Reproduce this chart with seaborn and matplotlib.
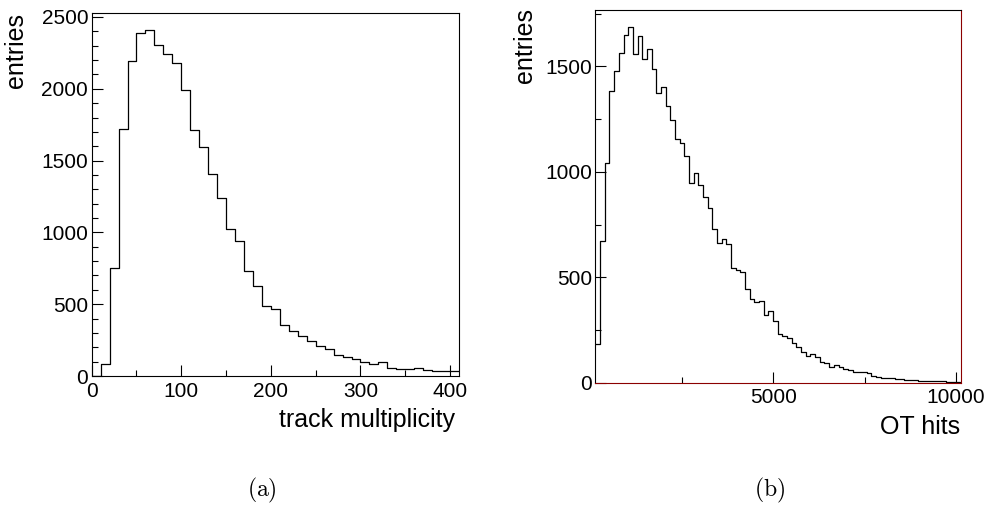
import numpy as np
import pandas as pd
import matplotlib
matplotlib.use('Agg')
import matplotlib.pyplot as plt
import seaborn as sns
from matplotlib.ticker import MultipleLocator

# Style de base, puis police type Helvetica
sns.set_style("ticks")
plt.rcParams['font.family'] = ['Liberation Sans', 'DejaVu Sans']
plt.rcParams['mathtext.fontset'] = 'cm'
plt.rcParams['text.color'] = 'black'
plt.rcParams['axes.labelcolor'] = 'black'
plt.rcParams['axes.edgecolor'] = 'black'
plt.rcParams['xtick.color'] = 'black'
plt.rcParams['ytick.color'] = 'black'

# (a) multiplicité des traces : bins de 10, de 0 à 410
track_lo = 0
track_width = 10
track_counts = [0, 81, 754, 1723, 2196, 2391, 2410, 2303, 2245, 2178, 1994,
                1716, 1598, 1405, 1243, 1025, 942, 730, 626, 489, 466,
                352, 311, 281, 246, 209, 190, 144, 132, 121, 100,
                86, 95, 53, 46, 49, 53, 42, 35, 35, 35]

# (b) hits OT : bins de 128
ot_lo = 130
ot_width = 128
ot_counts = [183, 670, 1040, 1384, 1477, 1566, 1648, 1687, 1561, 1644,
             1537, 1585, 1490, 1374, 1403, 1311, 1245, 1158, 1135, 1074,
             945, 997, 940, 882, 829, 730, 663, 680, 657, 545,
             534, 525, 444, 395, 384, 387, 321, 340, 294, 231,
             221, 210, 186, 171, 147, 127, 136, 120, 100, 92,
             76, 84, 73, 65, 60, 52, 50, 52, 44, 33,
             25, 20, 24, 21, 16, 17, 14, 13, 11, 9,
             8, 8, 6, 9, 6, 5, 3, 3]


def make_df(lo, width, counts):
    edges = lo + width * np.arange(len(counts) + 1)
    df = pd.DataFrame({'x': edges[:-1] + width / 2, 'entries': counts})
    return df, [float(e) for e in edges]


fig = plt.figure(figsize=(9.88, 5.18), dpi=100)
ax1 = fig.add_axes([0.0928, 0.2741, 0.3718, 0.7014])
ax2 = fig.add_axes([0.6027, 0.2612, 0.3696, 0.7195])

# Panneau (a)
df1, edges1 = make_df(track_lo, track_width, track_counts)
sns.histplot(data=df1, x='x', weights='entries', bins=edges1, element='step',
             fill=False, color='black', linewidth=0.9, ax=ax1)
ax1.set_xlim(0, 410)
ax1.set_ylim(0, 2530)
ax1.xaxis.set_major_locator(MultipleLocator(100))
ax1.xaxis.set_minor_locator(MultipleLocator(50))
ax1.yaxis.set_major_locator(MultipleLocator(500))
ax1.yaxis.set_minor_locator(MultipleLocator(100))

# Panneau (b)
df2, edges2 = make_df(ot_lo, ot_width, ot_counts)
sns.histplot(data=df2, x='x', weights='entries', bins=edges2, element='step',
             fill=False, color='black', linewidth=0.9, ax=ax2)
ax2.set_xlim(130, 10130)
ax2.set_ylim(0, 1768)
ax2.xaxis.set_major_locator(MultipleLocator(5000))
ax2.xaxis.set_minor_locator(MultipleLocator(2500))
ax2.yaxis.set_major_locator(MultipleLocator(500))
ax2.yaxis.set_minor_locator(MultipleLocator(250))

for ax in (ax1, ax2):
    for s in ax.spines.values():
        s.set_linewidth(0.8)
        s.set_color('black')
    ax.tick_params(which='both', direction='in', top=False, right=False,
                   labelsize=15, color='black', labelcolor='black', width=0.8)
    ax.tick_params(which='major', length=8)
    ax.tick_params(which='minor', length=4)
    ax.tick_params(axis='y', pad=2.5)
    ax.tick_params(axis='x', pad=4)
    ax.set_ylabel('entries', fontsize=18, loc='top')

# cadre rouge foncé en bas et à droite du panneau (b)
ax2.spines['bottom'].set_color('#8b0000')
ax2.spines['right'].set_color('#8b0000')

ax1.set_xlabel('track multiplicity', fontsize=18, loc='right')
ax2.set_xlabel('OT hits', fontsize=18, loc='right')
ax1.yaxis.set_label_coords(-0.173, 1.0)
ax2.yaxis.set_label_coords(-0.161, 1.005)
ax1.xaxis.set_label_coords(0.989, -0.088)
ax2.xaxis.set_label_coords(0.998, -0.088)

fig.text(0.265, 0.054, r'$\mathrm{(a)}$', fontsize=17, ha='center', va='center')
fig.text(0.779, 0.054, r'$\mathrm{(b)}$', fontsize=17, ha='center', va='center')

plt.savefig('out.png', dpi=100)
